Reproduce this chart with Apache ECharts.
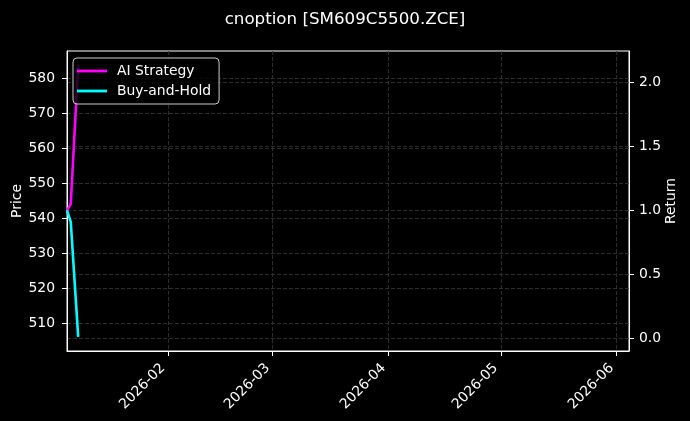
<!DOCTYPE html>
<html><head><meta charset="utf-8">
<script src="https://cdn.jsdelivr.net/npm/echarts@6/dist/echarts.min.js"></script>
<style>html,body{margin:0;padding:0;background:#000;}#c{width:690px;height:421px;}</style>
</head><body><div id="c"></div>
<script>
// ---- data ----
const dates = ['2026-01-05', '2026-01-06', '2026-01-08'];
const aiStrategy = [1.00, 1.05, 2.14];
const buyAndHold = [1.00, 0.91, 0.01];
const monthTicks = ['2026-02-01', '2026-03-01', '2026-04-01', '2026-05-01', '2026-06-01'];
const priceTicks = [510, 520, 530, 540, 550, 560, 570, 580];
const returnTicks = [0.0, 0.5, 1.0, 1.5, 2.0];
const xRange = ['2026-01-05T00:00:00Z', '2026-06-04T07:00:00Z'];
const priceRange = [502.1, 587.8];
const returnRange = [-0.10, 2.248];

const ts = s => Date.parse(s.length === 10 ? s + 'T00:00:00Z' : s);
const FONT = 'DejaVu Sans';
const pad2 = n => (n < 10 ? '0' : '') + n;
const fmtMonth = v => { const d = new Date(v); return d.getUTCFullYear() + '-' + pad2(d.getUTCMonth() + 1); };
const grid = { show: true, color: '#383838', width: 0.8, type: [4, 2] };

const chart = echarts.init(document.getElementById('c'), null, { renderer: 'canvas' });
chart.setOption({
  animation: false,
  backgroundColor: '#000000',
  textStyle: { fontFamily: FONT },
  title: {
    text: 'cnoption [SM609C5500.ZCE]',
    left: 'center', top: 11, padding: 0,
    textStyle: { color: '#ffffff', fontSize: 16.7, fontWeight: 'normal', fontFamily: FONT }
  },
  grid: { left: 67, right: 61, top: 51, bottom: 70, containLabel: false, outerBoundsMode: 'none',
          show: true, borderColor: '#ffffff', borderWidth: 1, backgroundColor: 'transparent' },
  legend: {
    left: 73, top: 58, orient: 'vertical',
    icon: 'rect', itemWidth: 30, itemHeight: 2.8, itemGap: 6,
    padding: [6, 8, 6, 4],
    backgroundColor: 'rgba(0,0,0,0.8)', borderColor: '#cccccc', borderWidth: 1, borderRadius: 4,
    textStyle: { color: '#ffffff', fontSize: 13.9, fontFamily: FONT, padding: [0, 0, 0, 5] },
    data: ['AI Strategy', 'Buy-and-Hold']
  },
  xAxis: {
    type: 'value',
    min: ts(xRange[0]), max: ts(xRange[1]),
    axisLine: { show: true, onZero: false, lineStyle: { color: '#ffffff', width: 1 } },
    axisTick: { show: true, length: 5, lineStyle: { color: '#ffffff' }, customValues: monthTicks.map(ts) },
    axisLabel: {
      customValues: monthTicks.map(ts), formatter: fmtMonth,
      rotate: 45, margin: 10, padding: [0, 7, 0, 0],
      color: '#ffffff', fontSize: 13.9, fontFamily: FONT
    },
    splitLine: { show: true, lineStyle: grid }
  },
  yAxis: [
    {
      type: 'value', position: 'left',
      min: priceRange[0], max: priceRange[1],
      name: 'Price', nameLocation: 'middle', nameGap: 43, nameRotate: 90, nameMoveOverlap: false,
      nameTextStyle: { color: '#ffffff', fontSize: 13.9, fontFamily: FONT },
      axisLine: { show: true, onZero: false, lineStyle: { color: '#ffffff', width: 1 } },
      axisTick: { show: true, length: 5, lineStyle: { color: '#ffffff' }, customValues: priceTicks },
      axisLabel: { customValues: priceTicks, margin: 12, color: '#ffffff', fontSize: 13.9, fontFamily: FONT },
      splitLine: { show: true, lineStyle: grid }
    },
    {
      type: 'value', position: 'right',
      min: returnRange[0], max: returnRange[1],
      name: 'Return', nameLocation: 'middle', nameGap: 35, nameRotate: 90, nameMoveOverlap: false,
      nameTextStyle: { color: '#ffffff', fontSize: 13.9, fontFamily: FONT },
      axisLine: { show: true, onZero: false, lineStyle: { color: '#ffffff', width: 1 } },
      axisTick: { show: true, length: 5, lineStyle: { color: '#ffffff' }, customValues: returnTicks },
      axisLabel: { customValues: returnTicks, formatter: v => v.toFixed(1), margin: 10, color: '#ffffff', fontSize: 13.9, fontFamily: FONT },
      splitLine: { show: true, lineStyle: grid }
    }
  ],
  series: [
    {
      name: 'AI Strategy', type: 'line', yAxisIndex: 1, symbol: 'none', showSymbol: false,
      color: '#ff00ff', lineStyle: { width: 2.6, color: '#ff00ff' },
      data: dates.map((d, i) => [ts(d), aiStrategy[i]])
    },
    {
      name: 'Buy-and-Hold', type: 'line', yAxisIndex: 1, symbol: 'none', showSymbol: false,
      color: '#00ffff', lineStyle: { width: 2.6, color: '#00ffff' },
      data: dates.map((d, i) => [ts(d), buyAndHold[i]])
    }
  ]
});
</script></body></html>
